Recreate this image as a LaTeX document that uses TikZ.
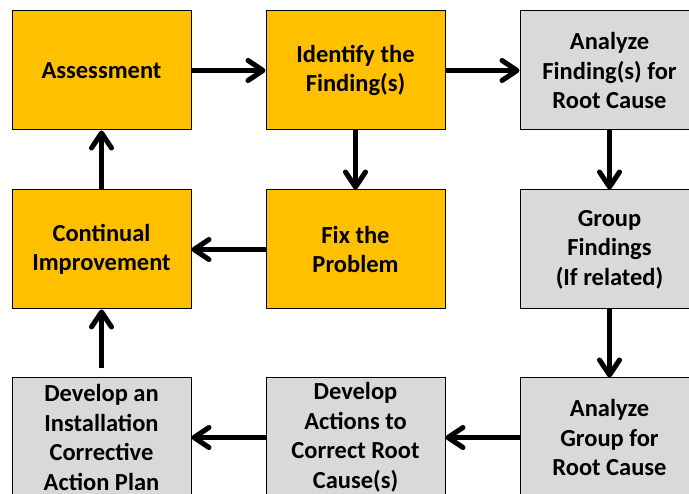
\documentclass[tikz,border=0pt]{standalone}
\usepackage{fontspec}
\setmainfont{Carlito}
\usetikzlibrary{positioning,arrows.meta}
\definecolor{orangebox}{HTML}{FFC000}
\definecolor{graybox}{HTML}{D9D9D9}
\tikzset{
  stepbox/.style={
    draw=black,
    line width=1pt,
    minimum width=179pt,
    minimum height=119pt,
    inner sep=0pt,
    align=center,
    font=\bfseries\fontsize{24.5}{29.5}\selectfont
  },
  fixbox/.style={stepbox, fill=orangebox},
  rootbox/.style={stepbox, fill=graybox},
  flow/.style={line width=5pt, -{Straight Barb[length=15pt,width=20pt,round]}}
}

\begin{document}
\begin{tikzpicture}[x=1pt,y=1pt]
  \useasboundingbox (0,0) rectangle (689,-494);

  \node (assess) [fixbox] at (101.5,-70.5) {Assessment};
  \node (identify) [fixbox, right=74pt of assess] {Identify the\\Finding(s)};
  \node (analyze) [rootbox, right=74pt of identify] {Analyze\\Finding(s) for\\Root Cause};

  \node (improve) [fixbox, below=59pt of assess] {Continual\\Improvement};
  \node (fix) [fixbox, below=59pt of identify] {Fix the\\Problem};
  \node (group) [rootbox, below=59pt of analyze] {Group\\Findings\\(If related)};

  \node (plan) [rootbox, below=68pt of improve] {Develop an\\Installation\\Corrective\\Action Plan};
  \node (actions) [rootbox, below=68pt of fix] {Develop\\Actions to\\Correct Root\\Cause(s)};
  \node (groupcause) [rootbox, below=68pt of group] {Analyze\\Group for\\Root Cause};

  % the loop of steps
  \draw[flow] (assess) -- (identify);
  \draw[flow] (identify) -- (analyze);
  \draw[flow] (identify) -- (fix);
  \draw[flow] (fix) -- (improve);
  \draw[flow] (analyze) -- (group);
  \draw[flow] (group) -- (groupcause);
  \draw[flow] (groupcause) -- (actions);
  \draw[flow] (actions) -- (plan);
  \draw[flow, shorten <=9pt] (plan) -- (improve);
  \draw[flow] (improve) -- (assess);
\end{tikzpicture}
\end{document}
